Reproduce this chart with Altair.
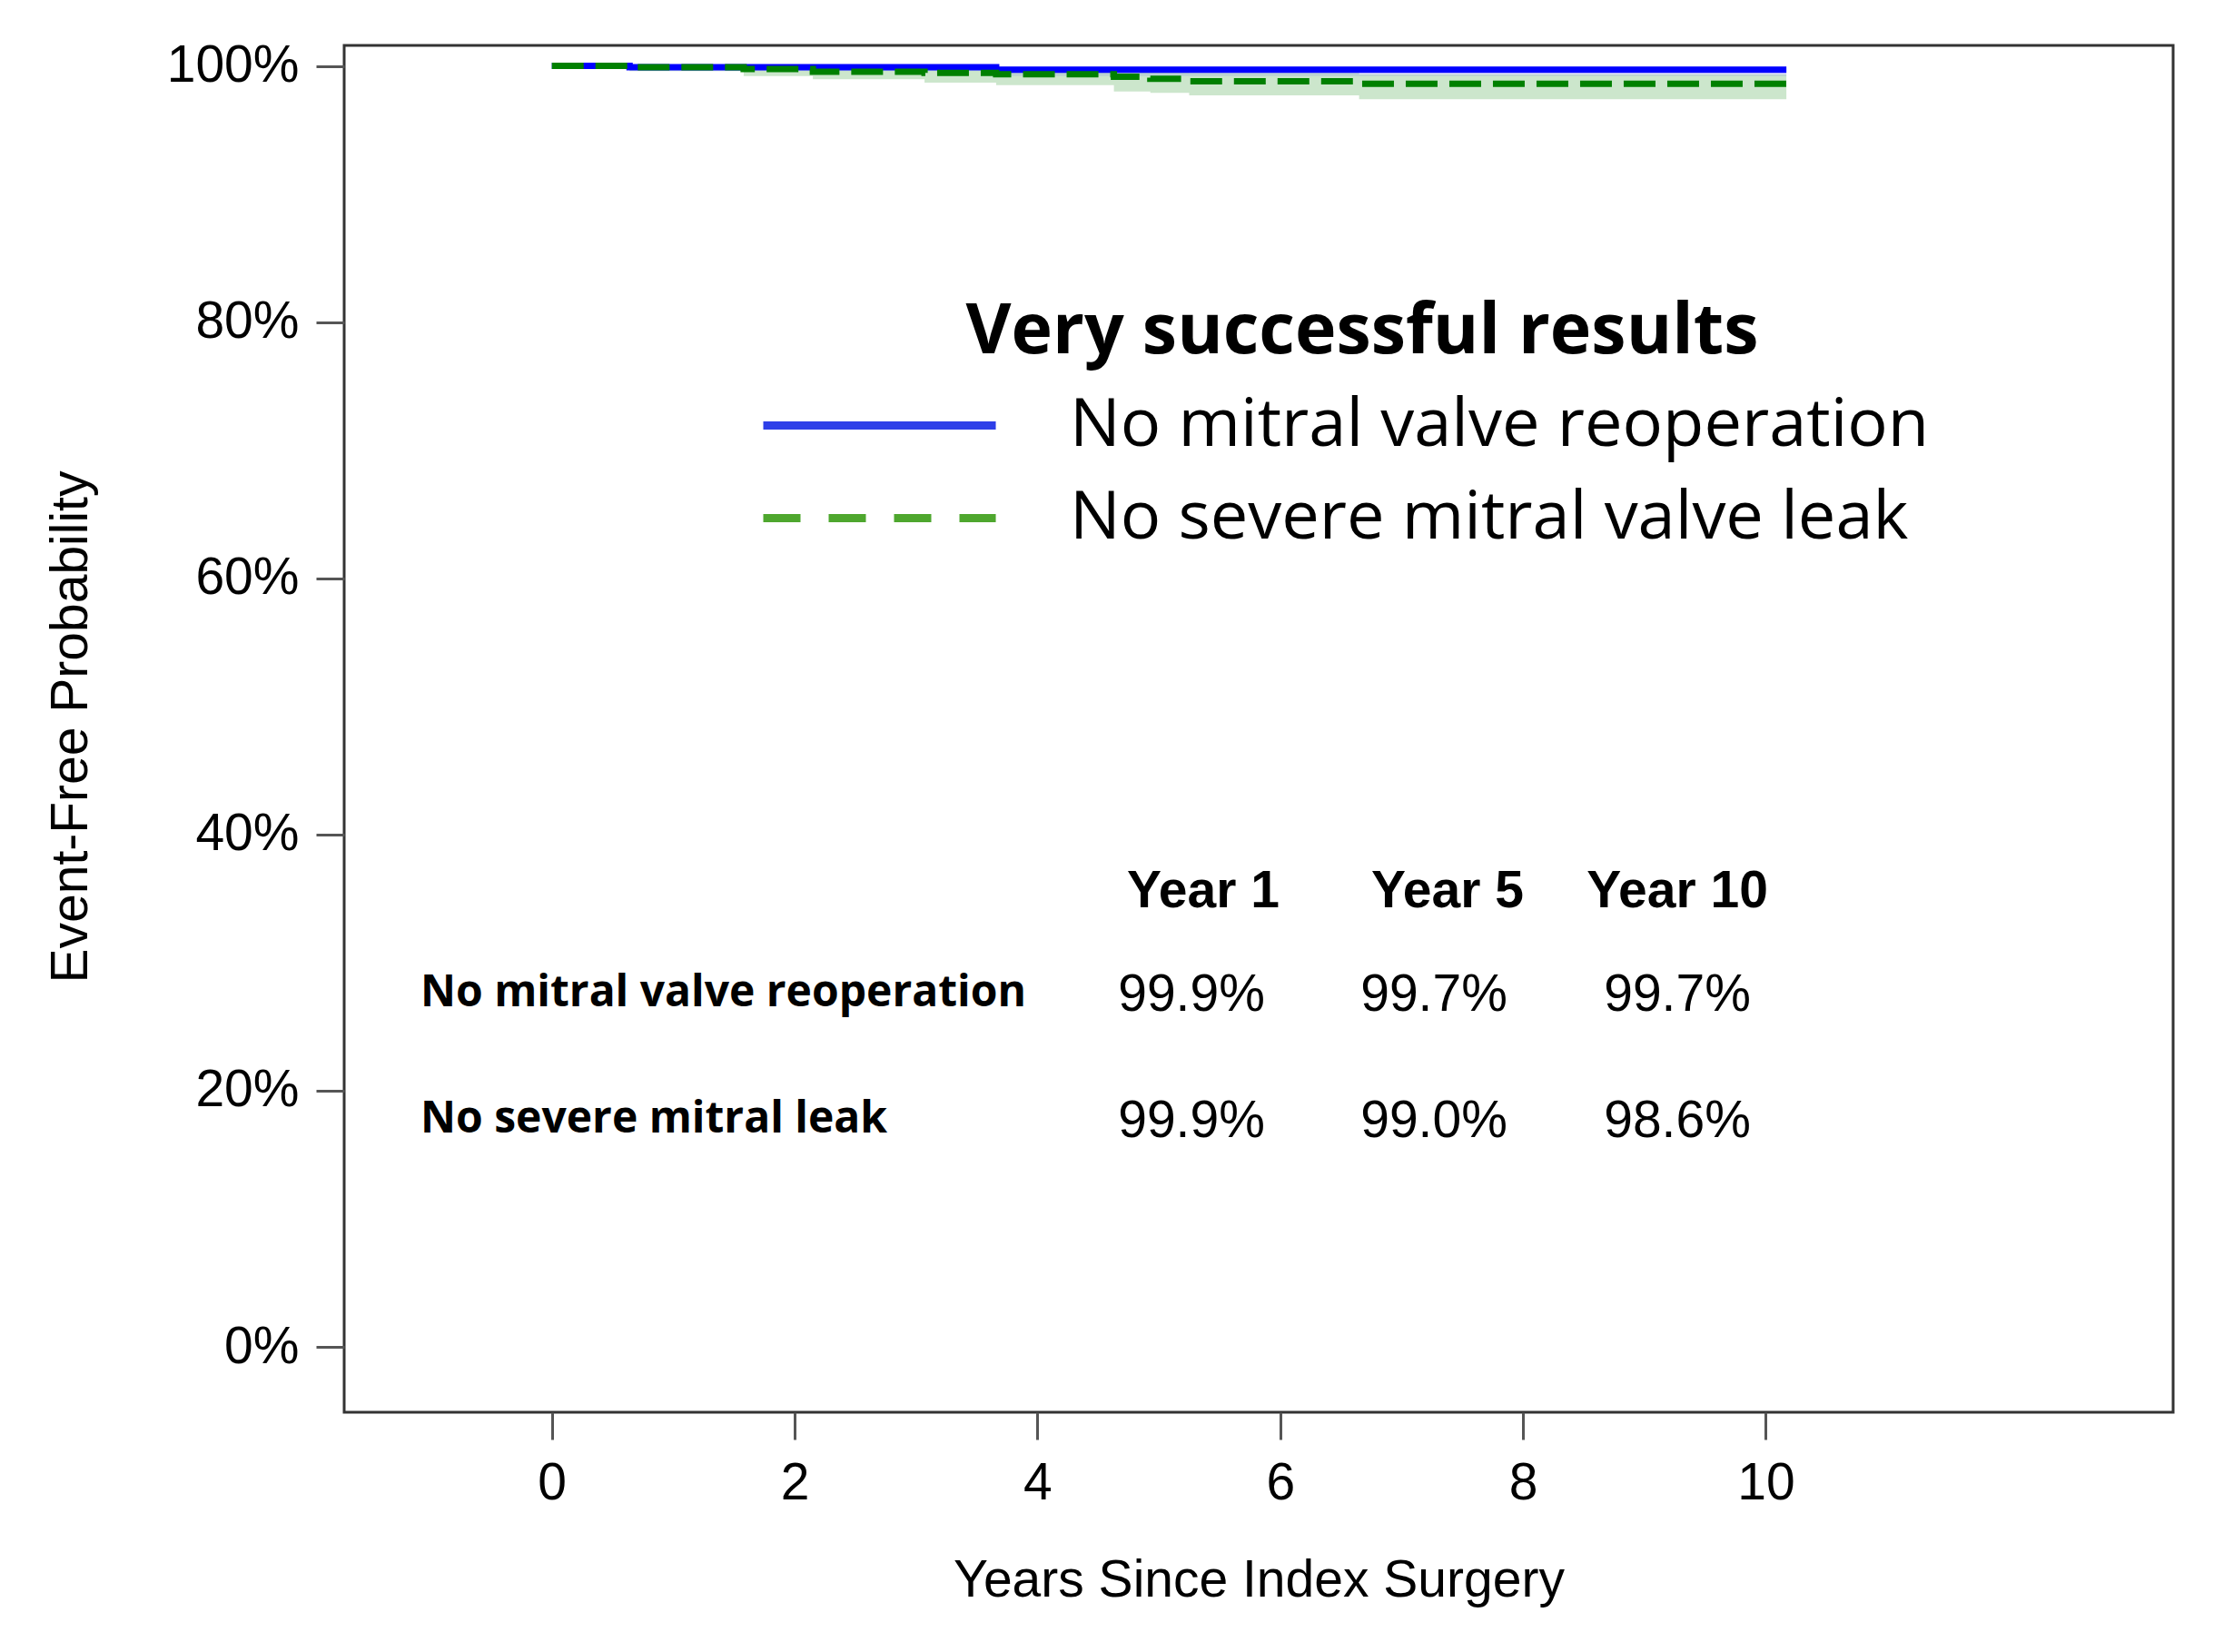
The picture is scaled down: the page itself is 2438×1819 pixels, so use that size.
import altair as alt
import pandas as pd

# ---------------- data ----------------
series_names = ["No mitral valve reoperation", "No severe mitral valve leak"]
legend_title = "Very successful results"

reop_t = [0.0, 0.64, 3.66, 10.17]
reop_s = [1.000, 0.999, 0.997, 0.997]
reop_lo = [1.000, 0.996, 0.992, 0.992]
reop_hi = [1.000, 1.000, 1.000, 1.000]

leak_t = [0.0, 0.64, 1.58, 2.15, 3.07, 3.66, 4.63, 4.93, 5.25, 6.65, 10.17]
leak_s = [1.000, 0.999, 0.9975, 0.9955, 0.9945, 0.9935, 0.9915, 0.990, 0.988, 0.986, 0.986]
leak_lo = [1.000, 0.996, 0.992, 0.9896, 0.987, 0.985, 0.980, 0.979, 0.977, 0.974, 0.974]
leak_hi = [1.000, 1.000, 0.9995, 0.999, 0.9985, 0.998, 0.9965, 0.9955, 0.9945, 0.9935, 0.9935]

x_ticks = [0, 2, 4, 6, 8, 10]
y_ticks = [0.0, 0.2, 0.4, 0.6, 0.8, 1.0]

table_headers = ["Year 1", "Year 5", "Year 10"]
table_rows = ["No mitral valve reoperation", "No severe mitral leak"]
table_values = [["99.9%", "99.7%", "99.7%"],
                ["99.9%", "99.0%", "98.6%"]]

# ---------------- tables for the library ----------------
reop = pd.DataFrame({"t": reop_t, "s": reop_s, "lo": reop_lo, "hi": reop_hi,
                     "series": series_names[0]})
leak = pd.DataFrame({"t": leak_t, "s": leak_s, "lo": leak_lo, "hi": leak_hi,
                     "series": series_names[1]})
both = pd.concat([reop, leak], ignore_index=True)

ARIAL = "Liberation Sans"
SANS = "Open Sans"

x_scale = alt.Scale(domain=[-1.711, 13.356], nice=False, zero=False)
y_scale = alt.Scale(domain=[-0.051, 1.016], nice=False, zero=False)

x_axis = alt.Axis(values=x_ticks, title="Years Since Index Surgery", grid=False,
                  domain=False, tickSize=30, tickWidth=3, tickColor="#555555",
                  labelFont=ARIAL, labelFontSize=57, labelColor="black",
                  labelPadding=20, titleFont=ARIAL, titleFontSize=57,
                  titleFontWeight="normal", titleColor="black",
                  titleY=185, titleBaseline="middle")
y_axis = alt.Axis(values=y_ticks, format=".0%", title="Event-Free Probability",
                  grid=False, domain=False, tickSize=31, tickWidth=3,
                  tickColor="#555555", labelFont=ARIAL, labelFontSize=57,
                  labelColor="black", labelPadding=19, titleFont=ARIAL,
                  titleFontSize=57, titleFontWeight="normal", titleColor="black",
                  titleX=-301, titleY=750, titleAngle=270, titleBaseline="middle",
                  titleAlign="center")

X = alt.X("t:Q", scale=x_scale, axis=x_axis)
Y = alt.Y("s:Q", scale=y_scale, axis=y_axis)
Ylo = alt.Y("lo:Q", scale=y_scale, axis=y_axis)

band_leak = alt.Chart(leak).mark_area(interpolate="step-after", color="#008000",
                                      opacity=0.2).encode(x=X, y=Ylo, y2="hi:Q")
band_reop = alt.Chart(reop).mark_area(interpolate="step-after", color="#4040ff",
                                      opacity=0.12).encode(x=X, y=Ylo, y2="hi:Q")
line_reop = alt.Chart(reop).mark_line(interpolate="step-after", color="#0000FF",
                                      strokeWidth=7).encode(x=X, y=Y)
line_leak = alt.Chart(leak).mark_line(interpolate="step-after", color="#008000",
                                      strokeWidth=7, strokeDash=[35, 13]).encode(x=X, y=Y)

legend = alt.Legend(orient="none", legendX=457, legendY=377, title=None,
                    labelFont=SANS, labelFontSize=74, labelColor="black",
                    labelOffset=259, labelLimit=3000,
                    symbolType="M-1,0H5.92", symbolSize=5476,
                    symbolStrokeWidth=9, symbolOpacity=1, rowPadding=23)
legend_layer = alt.Chart(both).mark_line(opacity=0).encode(
    x=X, y=Y,
    color=alt.Color("series:N", scale=alt.Scale(domain=series_names,
                                                range=["#2E3FE8", "#4EA72E"]),
                    legend=legend),
    strokeDash=alt.StrokeDash("series:N",
                              scale=alt.Scale(domain=series_names,
                                              range=[[1, 0], [41, 31]]),
                              legend=legend),
)

legend_heading = alt.Chart(pd.DataFrame({"txt": [legend_title]})).mark_text(
    font=SANS, fontSize=77, fontWeight="bold", align="center",
    baseline="middle", color="black"
).encode(text="txt:N", x=alt.value(1121), y=alt.value(316))

# ---------------- in-plot summary table ----------------
header_x = [946, 1215, 1468]
value_x = [933, 1200, 1468]
header_y = 932
label_y = [1044, 1183]
value_y = [1046, 1185]
text_layers = []
for i, h in enumerate(table_headers):
    text_layers.append(
        alt.Chart(pd.DataFrame({"txt": [h]})).mark_text(
            font=ARIAL, fontSize=57, fontWeight="bold", align="center",
            baseline="middle", color="black"
        ).encode(text="txt:N", x=alt.value(header_x[i]), y=alt.value(header_y)))
for r, lab in enumerate(table_rows):
    text_layers.append(
        alt.Chart(pd.DataFrame({"txt": [lab]})).mark_text(
            font=SANS, fontSize=48, fontWeight="bold", align="left",
            baseline="middle", color="black"
        ).encode(text="txt:N", x=alt.value(84), y=alt.value(label_y[r])))
    for c, v in enumerate(table_values[r]):
        text_layers.append(
            alt.Chart(pd.DataFrame({"txt": [v]})).mark_text(
                font=ARIAL, fontSize=57, align="center", baseline="middle",
                color="black"
            ).encode(text="txt:N", x=alt.value(value_x[c]), y=alt.value(value_y[r])))

chart = alt.layer(band_leak, band_reop, line_reop, line_leak, legend_layer,
                  legend_heading, *text_layers).properties(
    width=2014, height=1505,
    autosize=alt.AutoSizeParams(type="none"),
    padding={"left": 371, "top": 42, "right": 37, "bottom": 256},
    background="white",
).configure_view(stroke="#333333", strokeWidth=3)

chart.save("out.html", embed_options={"renderer": "svg", "actions": False})
